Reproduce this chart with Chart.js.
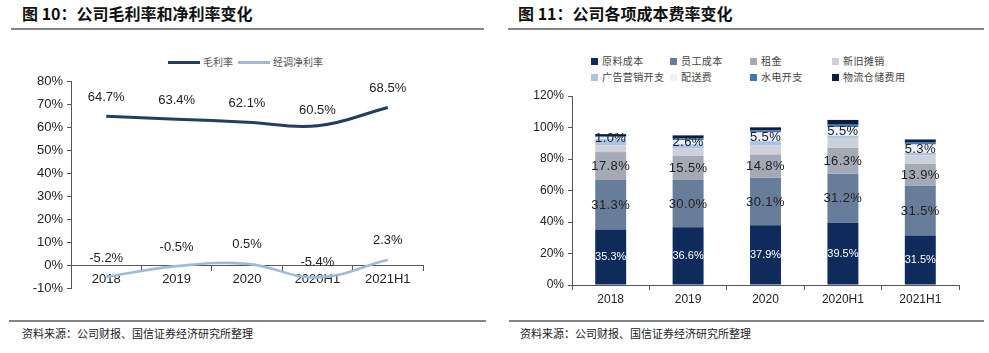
<!DOCTYPE html>
<html><head><meta charset="utf-8">
<script src="https://cdn.jsdelivr.net/npm/chart.js@4"></script>
<style>
html,body{margin:0;padding:0;background:#fff;}
body{width:989px;height:353px;position:relative;overflow:hidden;font-family:"Liberation Sans",Arial,sans-serif;}
.title{position:absolute;top:2px;font-family:"Noto Sans CJK SC";font-weight:700;font-size:16px;color:#111;line-height:22px;}
.hr{position:absolute;height:2px;background:#858585;}
.foot{position:absolute;top:325px;font-family:"Noto Sans CJK SC";font-size:11px;color:#222;line-height:16px;}
canvas{position:absolute;top:0;}
.lg{position:absolute;font-family:"Noto Sans CJK SC";font-size:10px;color:#555;line-height:14px;white-space:nowrap;}
.lgline{position:absolute;height:3px;}
.lgbox{position:absolute;width:7px;height:7px;}
</style></head>
<body>
<div class="title" style="left:22px">图 10：公司毛利率和净利率变化</div>
<div class="title" style="left:518px">图 11：公司各项成本费率变化</div>
<div class="hr" style="left:11px;width:473px;top:28px"></div>
<div class="hr" style="left:508px;width:476px;top:28px"></div>
<div class="hr" style="left:9px;width:477px;top:320px"></div>
<div class="hr" style="left:509px;width:475px;top:320px"></div>
<div class="foot" style="left:22px">资料来源：公司财报、国信证券经济研究所整理</div>
<div class="foot" style="left:520px">资料来源：公司财报、国信证券经济研究所整理</div>
<div id="legL"></div>
<div id="legR"></div>
<canvas id="c1" width="494" height="310" style="left:0"></canvas>
<canvas id="c2" width="495" height="310" style="left:494px"></canvas>
<script>
// ---------- data ----------
const years = ['2018', '2019', '2020', '2020H1', '2021H1'];
const grossMargin = [64.7, 63.4, 62.1, 60.5, 68.5];
const adjNetMargin = [-5.2, -0.5, 0.5, -5.4, 2.3];
const marginSeriesNames = ['毛利率', '经调净利率'];

const costNames = ['原料成本', '员工成本', '租金', '新旧摊销', '广告营销开支', '配送费', '水电开支', '物流仓储费用'];
const rawMaterial = [35.3, 36.6, 37.9, 39.5, 31.5];
const staffCost = [31.3, 30.0, 30.1, 31.2, 31.5];
const rent = [17.8, 15.5, 14.8, 16.3, 13.9];
const depreciation = [4.3, 4.5, 6.0, 6.3, 5.5];
const marketing = [4.0, 2.8, 2.5, 1.5, 1.5];
const delivery = [1.0, 2.6, 5.5, 5.5, 5.3];
const utilities = [0.8, 1.2, 1.3, 1.5, 1.2];
const logistics = [1.3, 1.8, 2.0, 3.0, 2.0];

// ---------- styles ----------
const lineColors = ['#213e63', '#9dbadd'];
const costColors = ['#0e2b5c', '#687d99', '#a3aab6', '#cdd2da', '#a9c4e4', '#eef2f8', '#3b79b9', '#0c1e40'];
const costLabelColors = ['#ffffff', '#222222', '#222222', null, null, '#222222', null, null];
const pct = v => v.toFixed(1) + '%';

// legends (HTML)
(function(){
  const leg = document.getElementById('legL');
  const items = [{x:168, tx:203}, {x:238, tx:273}];
  marginSeriesNames.forEach((n,i)=>{
    const l = document.createElement('div'); l.className='lgline';
    l.style.cssText = `left:${items[i].x}px;top:61px;width:32px;background:${lineColors[i]}`;
    leg.appendChild(l);
    const t = document.createElement('div'); t.className='lg'; t.textContent=n;
    t.style.cssText = `left:${items[i].tx}px;top:55px;`;
    leg.appendChild(t);
  });
  const leg2 = document.getElementById('legR');
  const colX = [591, 670, 750, 832], rowY = [58, 74];
  costNames.forEach((n,i)=>{
    const c = i%4, r = Math.floor(i/4);
    const b = document.createElement('div'); b.className='lgbox';
    b.style.cssText = `left:${colX[c]}px;top:${rowY[r]}px;background:${costColors[i]}`;
    leg2.appendChild(b);
    const t = document.createElement('div'); t.className='lg'; t.textContent=n;
    t.style.cssText = `left:${colX[c]+11}px;top:${rowY[r]-4}px;color:#444;letter-spacing:0.4px;`;
    leg2.appendChild(t);
  });
})();

const lineLabelPlugin = {
  id: 'lineLabels',
  afterDatasetsDraw(chart){
    const ctx = chart.ctx;
    ctx.save();
    ctx.font = '13px "Liberation Sans", Arial, sans-serif';
    ctx.fillStyle = '#222';
    ctx.textAlign = 'center';
    ctx.textBaseline = 'middle';
    chart.data.datasets.forEach((ds, di)=>{
      const meta = chart.getDatasetMeta(di);
      meta.data.forEach((el, i)=>{
        const off = (i === 3) ? 15 : 19;
        ctx.fillText(pct(ds.data[i]), el.x, el.y - off);
      });
    });
    ctx.restore();
  }
};

const barLabelPlugin = {
  id: 'barLabels',
  afterDatasetsDraw(chart){
    const ctx = chart.ctx;
    ctx.save();
    ctx.textAlign = 'center';
    ctx.textBaseline = 'middle';
    chart.data.datasets.forEach((ds, di)=>{
      const col = costLabelColors[di];
      if (!col) return;
      const meta = chart.getDatasetMeta(di);
      ctx.fillStyle = col;
      if (di === 0) { ctx.font = '11px "Liberation Sans", Arial, sans-serif'; ctx.letterSpacing = '0px'; }
      else { ctx.font = '13px "Liberation Sans", Arial, sans-serif'; ctx.letterSpacing = '0.4px'; }
      meta.data.forEach((el, i)=>{
        const y = (el.y + el.base) / 2;
        ctx.fillText(pct(ds.data[i]), el.x, y + 0.5);
      });
    });
    ctx.restore();
  }
};

Chart.defaults.font.family = '"Liberation Sans", Arial, sans-serif';
Chart.defaults.color = '#222';

new Chart(document.getElementById('c1'), {
  type: 'line',
  data: {
    labels: years,
    datasets: [
      {label: marginSeriesNames[0], data: grossMargin, borderColor: lineColors[0], borderWidth: 3, pointRadius: 0, tension: 0.4, fill: false},
      {label: marginSeriesNames[1], data: adjNetMargin, borderColor: lineColors[1], borderWidth: 2.6, pointRadius: 0, tension: 0.4, fill: false}
    ]
  },
  options: {
    responsive: false, animation: false, devicePixelRatio: 1,
    layout: {padding: {left: 11, right: 71, top: 81, bottom: 22}},
    plugins: {legend: {display: false}, tooltip: {enabled: false}},
    scales: {
      x: {
        type: 'category', position: {y: 0}, offset: true,
        grid: {offset: true, drawOnChartArea: false, drawTicks: true, tickLength: 5, color: '#555'},
        border: {color: '#555', width: 1},
        ticks: {font: {size: 13}, color: '#222', padding: 2, maxRotation: 0}
      },
      y: {
        min: -10, max: 80,
        afterFit(s){ s.width = 60; },
        grid: {drawOnChartArea: false, tickLength: 4, color: '#555'},
        border: {color: '#555', width: 1},
        ticks: {stepSize: 10, font: {size: 13}, color: '#222', padding: 4, callback: v => v + '%'}
      }
    }
  },
  plugins: [lineLabelPlugin]
});

const costSeries = [rawMaterial, staffCost, rent, depreciation, marketing, delivery, utilities, logistics];
new Chart(document.getElementById('c2'), {
  type: 'bar',
  data: {
    labels: years,
    datasets: costSeries.map((d, i) => ({
      label: costNames[i], data: d, backgroundColor: costColors[i], borderWidth: 0,
      barPercentage: 0.8, categoryPercentage: 0.5
    }))
  },
  options: {
    responsive: false, animation: false, devicePixelRatio: 1,
    layout: {padding: {left: 18, right: 30, top: 96, bottom: 5}},
    plugins: {legend: {display: false}, tooltip: {enabled: false}},
    scales: {
      x: {
        stacked: true,
        afterFit(s){ s.height = 20; },
        grid: {offset: true, drawOnChartArea: false, tickLength: 5, color: '#555'},
        border: {color: '#555', width: 1},
        ticks: {font: {size: 12}, color: '#222', padding: 2, maxRotation: 0}
      },
      y: {
        stacked: true, min: 0, max: 120,
        afterFit(s){ s.width = 60; },
        grid: {drawOnChartArea: false, tickLength: 4, color: '#555'},
        border: {color: '#555', width: 1},
        ticks: {stepSize: 20, font: {size: 12}, color: '#222', padding: 4, callback: v => v + '%'}
      }
    }
  },
  plugins: [barLabelPlugin]
});
</script>
</body></html>
